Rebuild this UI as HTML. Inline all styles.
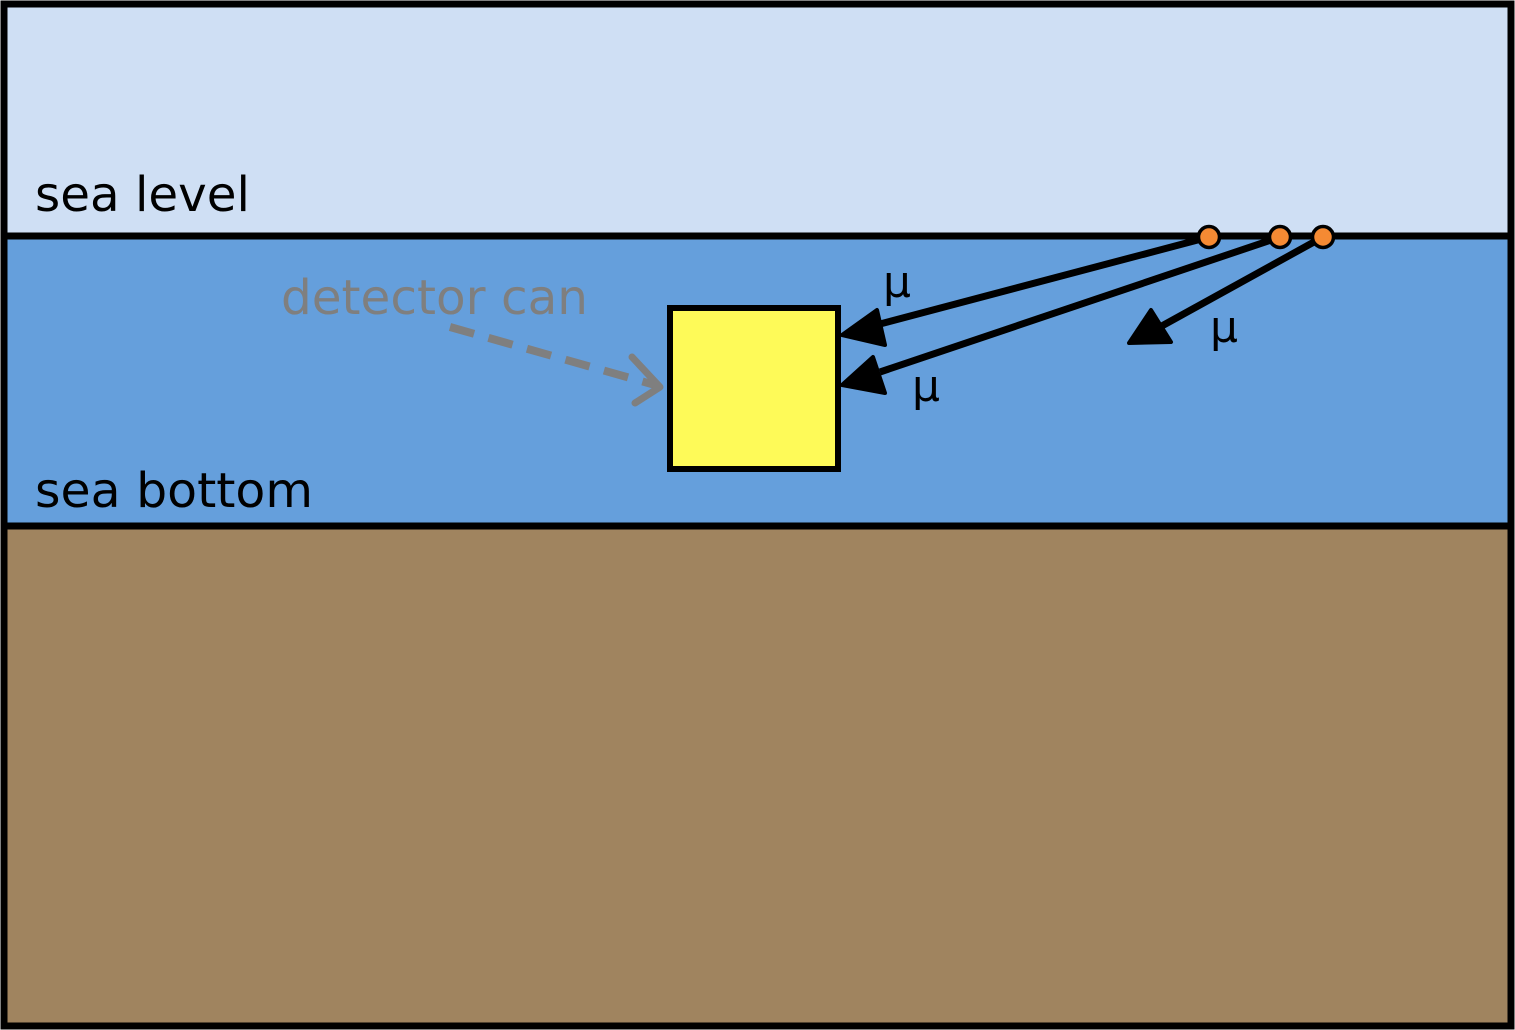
<!DOCTYPE html>
<html><head><meta charset="utf-8"><style>
html,body{margin:0;padding:0;background:#fff;}
svg{display:block;}
text{font-family:"DejaVu Sans","Liberation Sans",sans-serif;}
</style></head><body>
<svg width="1515" height="1030" viewBox="0 0 1515 1030" xmlns="http://www.w3.org/2000/svg">
<rect x="4" y="4" width="1507" height="232" fill="#cfdff4"/>
<rect x="4" y="236" width="1507" height="290" fill="#659fdc"/>
<rect x="4" y="526" width="1507" height="500" fill="#a0845f"/>
<line x1="4" y1="236" x2="1511" y2="236" stroke="#000" stroke-width="7"/>
<line x1="4" y1="526" x2="1511" y2="526" stroke="#000" stroke-width="7"/>
<rect x="4" y="4" width="1507" height="1022" fill="none" stroke="#000" stroke-width="7"/>
<text x="35" y="211" font-size="48" fill="#000" textLength="215" lengthAdjust="spacingAndGlyphs">sea level</text>
<text x="35" y="507" font-size="48" fill="#000" textLength="278" lengthAdjust="spacingAndGlyphs">sea bottom</text>
<text x="281" y="314" font-size="48" fill="#7f7f7f" textLength="307" lengthAdjust="spacingAndGlyphs">detector can</text>
<rect x="670" y="308" width="168" height="161" fill="#fefa58" stroke="#000" stroke-width="6"/>
<line x1="450" y1="327" x2="655" y2="385" stroke="#7f7f7f" stroke-width="8" stroke-dasharray="25,15"/>
<polyline points="632,357 660,387 635,403" fill="none" stroke="#7f7f7f" stroke-width="7" stroke-linecap="round" stroke-linejoin="round"/>
<line x1="1209" y1="237" x2="880" y2="324" stroke="#000" stroke-width="7"/>
<polygon points="842,335 877,310 885,345" fill="#000" stroke="#000" stroke-width="4" stroke-linejoin="round"/>
<line x1="1280" y1="237" x2="880" y2="372" stroke="#000" stroke-width="7"/>
<polygon points="842,385 873,357 885,393" fill="#000" stroke="#000" stroke-width="4" stroke-linejoin="round"/>
<line x1="1323" y1="237" x2="1160" y2="327" stroke="#000" stroke-width="7"/>
<polygon points="1129,343 1151,310 1171,342" fill="#000" stroke="#000" stroke-width="4" stroke-linejoin="round"/>
<circle cx="1209" cy="237" r="10.5" fill="#f58a33" stroke="#000" stroke-width="3.5"/>
<circle cx="1280" cy="237" r="10.5" fill="#f58a33" stroke="#000" stroke-width="3.5"/>
<circle cx="1323" cy="237" r="10.5" fill="#f58a33" stroke="#000" stroke-width="3.5"/>
<text x="883" y="297" font-size="44" fill="#000">μ</text>
<text x="912" y="401" font-size="44" fill="#000">μ</text>
<text x="1210" y="342" font-size="44" fill="#000">μ</text>
</svg>
</body></html>
